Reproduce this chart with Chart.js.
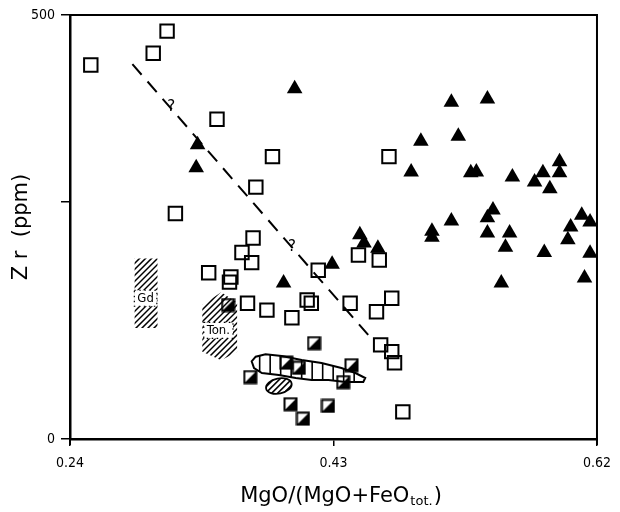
<!DOCTYPE html>
<html><head><meta charset="utf-8">
<style>html,body{margin:0;padding:0;background:#fff}#wrap{width:620px;height:512px}</style>
<script src="https://cdn.jsdelivr.net/npm/chart.js@4"></script>
</head><body><div id="wrap"><canvas id="c" width="620" height="512"></canvas></div>
<script>
// ---- data (x = MgO/(MgO+FeOtot), y = Zr ppm) ----
const openSquares = [[0.255,441],[0.300,455],[0.310,481],[0.346,377],[0.386,333],[0.374,297],[0.316,266],[0.372,237],[0.364,220],[0.470,333],[0.340,196],[0.356,191],[0.355,185],[0.371,208],[0.368,160],[0.382,152],[0.400,143],[0.411,164],[0.414,160],[0.419,199],[0.448,217],[0.463,211],[0.442,160],[0.461,150],[0.472,166],[0.464,111],[0.472,103],[0.474,90],[0.480,32]];
const halfSquares = [[0.354,158],[0.416,113],[0.443,87],[0.437,67],[0.426,39],[0.408,24],[0.399,41],[0.370,73],[0.396,90],[0.405,84]];
const triangles = [[0.402,413],[0.332,347],[0.331,320],[0.515,397],[0.541,401],[0.493,351],[0.520,357],[0.486,315],[0.529,314],[0.533,315],[0.559,309],[0.575,303],[0.581,314],[0.593,327],[0.593,314],[0.586,295],[0.545,270],[0.541,261],[0.515,257],[0.501,245],[0.501,238],[0.541,243],[0.557,243],[0.554,226],[0.449,241],[0.452,231],[0.462,225],[0.582,220],[0.601,250],[0.609,264],[0.615,256],[0.599,235],[0.615,219],[0.551,184],[0.611,190],[0.429,206],[0.394,184]];
const trendLine = [[0.285,442],[0.4565,120]];
const questionMarks = [[0.313,391],[0.400,226]];
const xTicks = [0.24,0.43,0.62];
const yTicks = [0,280,500];
const yTickLabels = {0:'0',500:'500'};
const gdPoly = [[0.2866,213],[0.3031,213],[0.3031,131],[0.2866,131]];
const gdLabel = {x:0.2945,y:166,text:'Gd'};
const tonPoly = [[0.3354,158],[0.3490,173],[0.3605,161],[0.3605,103],[0.3490,93],[0.3354,103]];
const tonLabel = {x:0.3470,y:128,text:'Ton.'};
const blobPoly = [[0.3710,91.6],[0.3739,97.1],[0.3810,99.9],[0.3927,97.9],[0.4071,93.2],[0.4214,89.6],[0.4357,83.7],[0.4458,77.8],[0.4529,71.9],[0.4515,67.2],[0.4386,67.2],[0.4264,69.6],[0.4142,69.6],[0.4028,71.9],[0.3906,75.5],[0.3784,77.8],[0.3727,83.7]];
const smallEllipse = {x:0.3906,y:62.5};

const pts = a => a.map(p => ({x:p[0], y:p[1]}));
const TICKFONT = '"DejaVu Sans Condensed","DejaVu Sans"';

function halfSquareImg(){
  const s=15, c=document.createElement('canvas'); c.width=s; c.height=s;
  const g=c.getContext('2d');
  g.fillStyle='#000'; g.beginPath(); g.moveTo(s-1.5,1.5); g.lineTo(s-1.5,s-1.5); g.lineTo(1.5,s-1.5); g.closePath(); g.fill();
  g.strokeStyle='#000'; g.lineWidth=2; g.strokeRect(1.5,1.5,s-3,s-3);
  return c;
}

function polyPath(ctx, xs, ys, poly){
  ctx.beginPath();
  poly.forEach((p,i)=>{const X=xs.getPixelForValue(p[0]),Y=ys.getPixelForValue(p[1]); i?ctx.lineTo(X,Y):ctx.moveTo(X,Y);});
  ctx.closePath();
}
function hatch(ctx, x0,y0,x1,y1, step){
  ctx.beginPath();
  const h=y1-y0, w=x1-x0;
  for(let t=-h-w; t<w+h; t+=step){ctx.moveTo(x0+t, y1); ctx.lineTo(x0+t+h, y0);}
  ctx.stroke();
}

const annot = {
  id:'annot',
  beforeDatasetsDraw(chart){
    const ctx=chart.ctx, xs=chart.scales.x, ys=chart.scales.y;
    ctx.save();
    ctx.strokeStyle='#000';
    [[gdPoly,gdLabel],[tonPoly,tonLabel]].forEach(([poly,lab])=>{
      ctx.save(); polyPath(ctx,xs,ys,poly); ctx.clip();
      const a=chart.chartArea; ctx.lineWidth=1.5; hatch(ctx,a.left,a.top,a.right,a.bottom,6);
      ctx.restore();
      const lx=xs.getPixelForValue(lab.x), ly=ys.getPixelForValue(lab.y);
      ctx.font='13px '+TICKFONT;
      const w=ctx.measureText(lab.text).width;
      ctx.fillStyle='#fff'; ctx.fillRect(lx-w/2-3,ly-8,w+6,16);
      ctx.fillStyle='#000'; ctx.textAlign='center'; ctx.textBaseline='middle';
      ctx.fillText(lab.text,lx,ly);
      ctx.setLineDash([1.5,3.5]); ctx.lineWidth=1.2;
      ctx.strokeRect(lx-w/2-3,ly-8,w+6,16); ctx.setLineDash([]);
    });
    // blob with vertical hatches
    ctx.save(); polyPath(ctx,xs,ys,blobPoly); ctx.fillStyle='#fff'; ctx.fill(); ctx.clip();
    ctx.beginPath();
    for(let X=xs.getPixelForValue(blobPoly[0][0])+8; X<xs.getPixelForValue(0.447); X+=10.5){ctx.moveTo(X,chart.chartArea.top);ctx.lineTo(X,chart.chartArea.bottom);}
    ctx.lineWidth=1.6; ctx.stroke(); ctx.restore();
    polyPath(ctx,xs,ys,blobPoly); ctx.lineWidth=2; ctx.stroke();
    // small ellipse
    const ex=xs.getPixelForValue(smallEllipse.x), ey=ys.getPixelForValue(smallEllipse.y);
    ctx.save(); ctx.beginPath(); ctx.ellipse(ex,ey,13,7.5,-0.2,0,Math.PI*2); ctx.fillStyle='#fff'; ctx.fill(); ctx.clip();
    ctx.lineWidth=1.6; hatch(ctx,ex-20,ey-12,ex+20,ey+12,6); ctx.restore();
    ctx.beginPath(); ctx.ellipse(ex,ey,13,7.5,-0.2,0,Math.PI*2); ctx.lineWidth=1.8; ctx.stroke();
    // question marks
    ctx.font='15px "DejaVu Sans"'; ctx.textAlign='center'; ctx.textBaseline='middle';
    questionMarks.forEach(q=>{const X=xs.getPixelForValue(q[0]),Y=ys.getPixelForValue(q[1]); ctx.fillStyle='#fff'; ctx.fillRect(X-5,Y-8,10,16); ctx.fillStyle='#000'; ctx.fillText('?',X,Y);});
    ctx.restore();
  },
  afterDraw(chart){
    const ctx=chart.ctx, a=chart.chartArea;
    ctx.save();
    ctx.strokeStyle='#000'; ctx.lineWidth=2;
    ctx.beginPath(); ctx.moveTo(a.left,a.top); ctx.lineTo(a.right,a.top); ctx.lineTo(a.right,a.bottom+6); ctx.stroke();
    ctx.beginPath(); ctx.moveTo(a.left,a.bottom); ctx.lineTo(a.left,a.bottom+6); ctx.stroke();
    // y title
    ctx.fillStyle='#000';
    ctx.save(); ctx.translate(22,(a.top+a.bottom)/2); ctx.rotate(-Math.PI/2);
    ctx.font='21px "DejaVu Sans"'; ctx.textAlign='center'; ctx.textBaseline='middle';
    ctx.fillText('Z r  (ppm)',0,0); ctx.restore();
    // x title with subscript
    const main='MgO/(MgO+FeO', sub='tot.', end=')';
    ctx.font='21px "DejaVu Sans"'; const w1=ctx.measureText(main).width, w3=ctx.measureText(end).width;
    ctx.font='13px "DejaVu Sans"'; const w2=ctx.measureText(sub).width;
    let x=341-(w1+w2+w3+2)/2, y=502;
    ctx.textAlign='left'; ctx.textBaseline='alphabetic';
    ctx.font='21px "DejaVu Sans"'; ctx.fillText(main,x,y); x+=w1+1;
    ctx.font='13px "DejaVu Sans"'; ctx.fillText(sub,x,y+3); x+=w2+1;
    ctx.font='21px "DejaVu Sans"'; ctx.fillText(end,x,y);
    ctx.restore();
  }
};

new Chart(document.getElementById('c'), {
  type:'scatter',
  data:{datasets:[
    {data:pts(triangles), pointStyle:'triangle', pointRadius:9, backgroundColor:'#000', borderColor:'#000', borderWidth:0},
    {data:pts(halfSquares), pointStyle:halfSquareImg()},
    {data:pts(openSquares), pointStyle:'rect', pointRadius:9.5, backgroundColor:'rgba(255,255,255,0)', borderColor:'#000', borderWidth:2},
    {type:'line', data:pts(trendLine), borderColor:'#000', borderWidth:2, borderDash:[14,9], pointRadius:0, fill:false}
  ]},
  options:{
    responsive:false, animation:false, devicePixelRatio:1,
    layout:{padding:{top:15,right:20,left:0,bottom:0}},
    plugins:{legend:{display:false}, tooltip:{enabled:false}},
    scales:{
      x:{type:'linear', min:0.24, max:0.62,
        afterBuildTicks:s=>{s.ticks=xTicks.map(v=>({value:v}));},
        afterFit:s=>{s.height=73;},
        ticks:{callback:v=>v.toFixed(2), color:'#000', font:{family:TICKFONT, size:14}, padding:9, maxRotation:0},
        grid:{drawOnChartArea:false, color:'#000', lineWidth:1.5, tickLength:7},
        border:{color:'#000', width:2.5}},
      y:{min:0, max:500,
        afterBuildTicks:s=>{s.ticks=yTicks.map(v=>({value:v}));},
        afterFit:s=>{s.width=70;},
        ticks:{callback:v=>yTickLabels[v]||'', color:'#000', font:{family:TICKFONT, size:14}, padding:6},
        grid:{drawOnChartArea:false, color:'#000', lineWidth:1.5, tickLength:9},
        border:{color:'#000', width:2.5}}
    }
  },
  plugins:[annot]
});
</script></body></html>
